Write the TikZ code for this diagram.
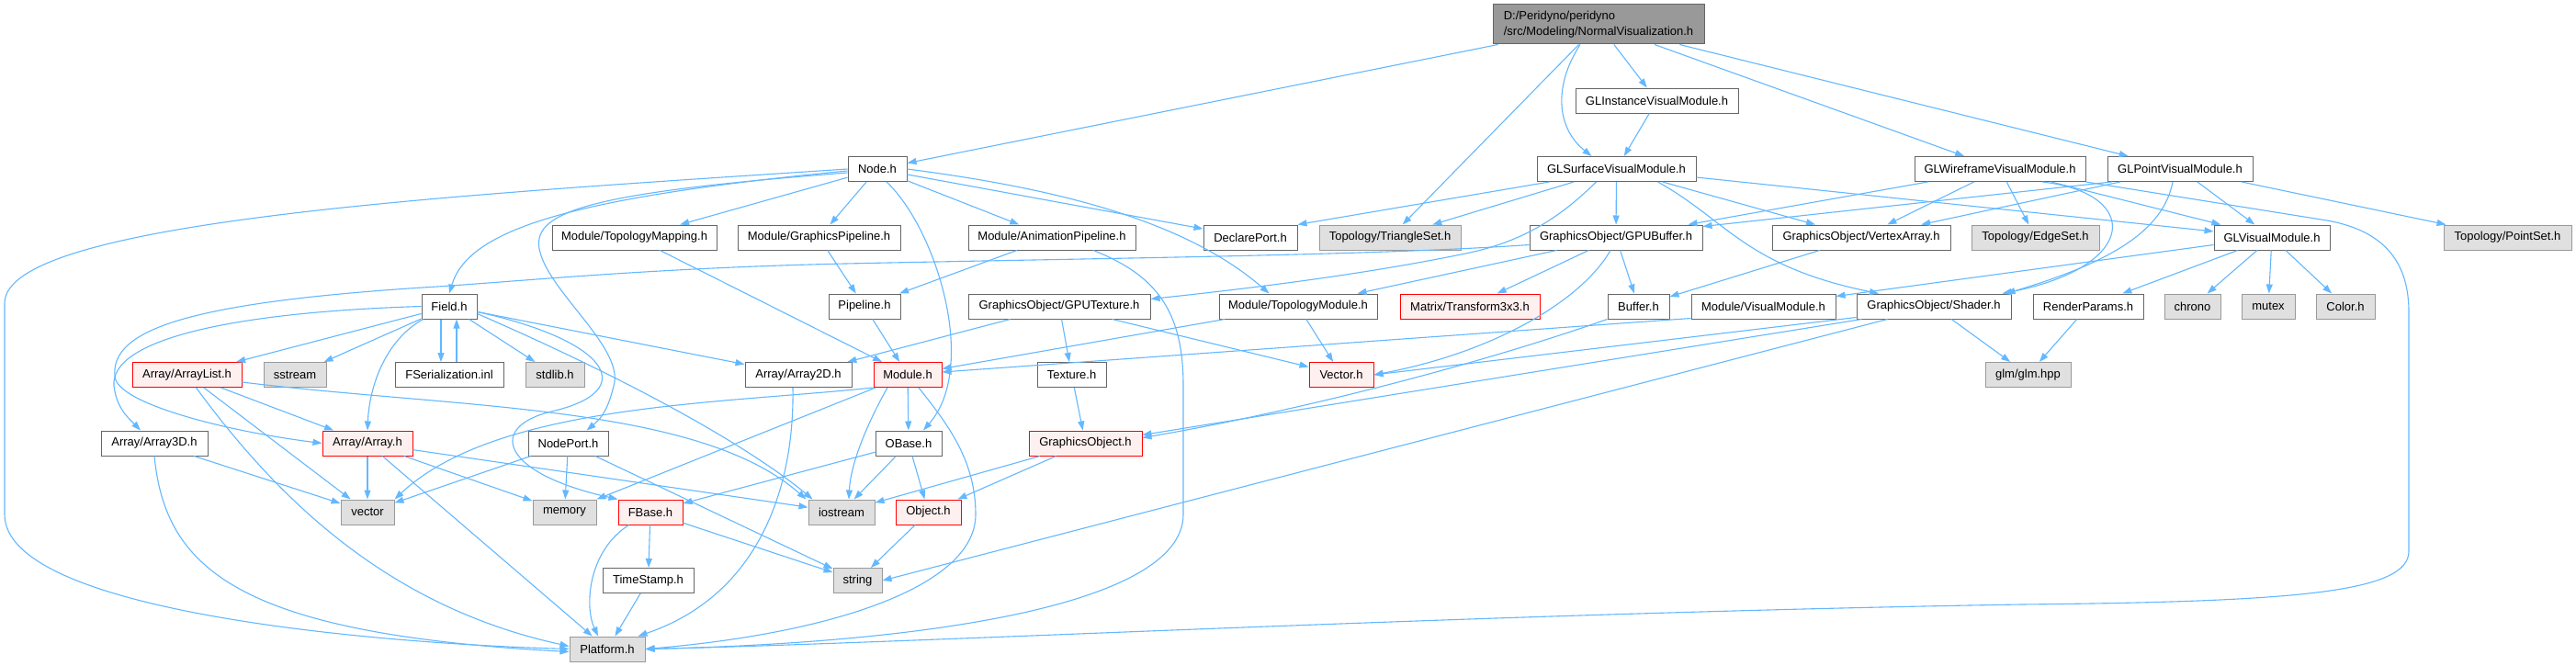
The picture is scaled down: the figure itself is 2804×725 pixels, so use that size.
\documentclass[tikz,border=0pt]{standalone}
\usepackage{fontspec}
\setmainfont{Liberation Sans}
\usetikzlibrary{arrows.meta,calc}
\definecolor{edgec}{HTML}{63B8FF}
\definecolor{bwhite}{HTML}{666666}
\definecolor{bgray}{HTML}{999999}
\definecolor{fgray}{HTML}{E0E0E0}
\definecolor{bred}{HTML}{FF0000}
\definecolor{fred}{HTML}{FFF0F0}
\definecolor{froot}{HTML}{999999}
\begin{document}
\begin{tikzpicture}[x=1pt,y=-1pt,
  every node/.style={font=\fontsize{13}{17}\selectfont, inner sep=0pt, minimum height=27pt, line width=1pt},
  wnode/.style={draw=bwhite, fill=white},
  gnode/.style={draw=bgray, fill=fgray},
  rnode/.style={draw=bred, fill=fred},
  rootnode/.style={draw=bwhite, fill=froot},
  dep/.style={draw=edgec, line width=1.1pt, -{Triangle[length=10pt,width=7pt]}}
]
\useasboundingbox (0,0) rectangle (2804,725);
\fill[white] (0,0) rectangle (2804,725);

% ---------- nodes ----------
\node[rootnode,minimum width=230pt,minimum height=43pt,align=left] (NV) at (1740,26.5) {D:/Peridyno/peridyno\\/src/Modeling/NormalVisualization.h};
\node[wnode,minimum width=177pt] (GLInst) at (1803.5,109.5) {GLInstanceVisualModule.h};
\node[wnode,minimum width=64pt] (Node) at (955,184) {Node.h};
\node[wnode,minimum width=173pt] (GLSurf) at (1759.5,184) {GLSurfaceVisualModule.h};
\node[wnode,minimum width=186pt] (GLWire) at (2177,184) {GLWireframeVisualModule.h};
\node[wnode,minimum width=158pt] (GLPoint) at (2373,184) {GLPointVisualModule.h};

\node[wnode,minimum width=179pt] (TMap) at (690.5,258.5) {Module/TopologyMapping.h};
\node[wnode,minimum width=177pt] (GPipe) at (891.5,258.5) {Module/GraphicsPipeline.h};
\node[wnode,minimum width=182pt] (APipe) at (1145,258.5) {Module/AnimationPipeline.h};
\node[wnode,minimum width=102pt] (Declare) at (1361,258.5) {DeclarePort.h};
\node[gnode,minimum width=154pt] (Tri) at (1513,258.5) {Topology/TriangleSet.h};
\node[wnode,minimum width=188pt] (GPUBuf) at (1759,258.5) {GraphicsObject/GPUBuffer.h};
\node[wnode,minimum width=194pt] (VArr) at (2026,258.5) {GraphicsObject/VertexArray.h};
\node[gnode,minimum width=139pt] (EdgeSet) at (2215.5,258.5) {Topology/EdgeSet.h};
\node[wnode,minimum width=126pt] (GLVis) at (2473,258.5) {GLVisualModule.h};
\node[gnode,minimum width=139pt] (PointSet) at (2729.5,258.5) {Topology/PointSet.h};

\node[wnode,minimum width=60pt] (Field) at (489,333.5) {Field.h};
\node[wnode,minimum width=78pt] (Pipeline) at (941,333.5) {Pipeline.h};
\node[wnode,minimum width=198pt] (GPUTex) at (1153,333.5) {GraphicsObject/GPUTexture.h};
\node[wnode,minimum width=172pt] (TModule) at (1413,333.5) {Module/TopologyModule.h};
\node[rnode,minimum width=152pt] (Transform) at (1600,333.5) {Matrix/Transform3x3.h};
\node[wnode,minimum width=67pt] (Buffer) at (1783.5,333.5) {Buffer.h};
\node[wnode,minimum width=157pt] (VisMod) at (1919.5,333.5) {Module/VisualModule.h};
\node[wnode,minimum width=168pt] (Shader) at (2105,333.5) {GraphicsObject/Shader.h};
\node[wnode,minimum width=120pt] (Render) at (2273,333.5) {RenderParams.h};
\node[gnode,minimum width=61pt] (chrono) at (2386.5,333.5) {chrono};
\node[gnode,minimum width=58pt] (mutex) at (2469,333.5) {mutex};
\node[gnode,minimum width=64pt] (Color) at (2553,333.5) {Color.h};

\node[rnode,minimum width=119pt] (ArrayList) at (203.5,408) {Array/ArrayList.h};
\node[gnode,minimum width=68pt] (sstream) at (321,408) {sstream};
\node[wnode,minimum width=118pt] (FSer) at (489,408) {FSerialization.inl};
\node[gnode,minimum width=64pt] (stdlib) at (604,408) {stdlib.h};
\node[wnode,minimum width=116pt] (Array2D) at (869,408) {Array/Array2D.h};
\node[rnode,minimum width=74pt] (Module) at (988,408) {Module.h};
\node[wnode,minimum width=75pt] (Texture) at (1166.5,408) {Texture.h};
\node[rnode,minimum width=70pt] (Vector) at (1460,408) {Vector.h};
\node[gnode,minimum width=93pt] (glm) at (2207.5,408) {glm/glm.hpp};

\node[wnode,minimum width=116pt] (Array3D) at (168,482.5) {Array/Array3D.h};
\node[rnode,minimum width=98pt] (Array) at (400,482.5) {Array/Array.h};
\node[wnode,minimum width=87pt] (NodePort) at (618.5,482.5) {NodePort.h};
\node[wnode,minimum width=72pt] (OBase) at (989,482.5) {OBase.h};
\node[rnode,minimum width=123pt] (GObj) at (1181.5,482.5) {GraphicsObject.h};

\node[gnode,minimum width=58pt] (vector) at (400,557.5) {vector};
\node[gnode,minimum width=69pt] (memory) at (614.5,557.5) {memory};
\node[rnode,minimum width=70pt] (FBase) at (708,557.5) {FBase.h};
\node[gnode,minimum width=72pt] (iostream) at (916,557.5) {iostream};
\node[rnode,minimum width=71pt] (Object) at (1010.5,557.5) {Object.h};

\node[wnode,minimum width=99pt] (TimeStamp) at (705.5,632) {TimeStamp.h};
\node[gnode,minimum width=53pt] (string) at (933.5,632) {string};
\node[gnode,minimum width=82pt] (Platform) at (661,706.5) {Platform.h};

% ---------- edges ----------
% root
\draw[dep] (NV) -- (Node);
\draw[dep] (NV) -- (Tri);
\draw[dep] ($(NV.south)+(-20,0)$) .. controls (1690,95) and (1695,140) .. ($(GLSurf.north)+(-27,0)$);
\draw[dep] (NV) -- (GLInst);
\draw[dep] (NV) -- (GLWire);
\draw[dep] (NV) -- (GLPoint);
\draw[dep] (GLInst) -- (GLSurf);

% GLSurface
\draw[dep] ($(GLSurf.south west)+(14,0)$) -- (Declare.north east);
\draw[dep] (GLSurf) -- (Tri);
\draw[dep] (GLSurf) -- (GPUBuf);
\draw[dep] ($(GLSurf.south)+(-22,0)$) .. controls (1700,235) and (1660,262) .. (1600,275) .. controls (1480,300) and (1350,315) .. ($(GPUTex.east)+(0,-8)$);
\draw[dep] (GLSurf) -- (VArr);
\draw[dep] ($(GLSurf.south)+(45,0)$) .. controls (1880,240) and (1900,290) .. ($(Shader.north)+(-60,0)$);
\draw[dep] ($(GLSurf.east)+(0,9)$) -- (GLVis);

% GLWireframe
\draw[dep] (GLWire) -- (GPUBuf);
\draw[dep] (GLWire) -- (VArr);
\draw[dep] (GLWire) -- (EdgeSet);
\draw[dep] ($(GLWire.south)+(46,0)$) .. controls (2330,210) and (2330,290) .. ($(Shader.north east)+(-10,0)$);
\draw[dep] (GLWire) -- (GLVis);
\draw[dep] (GLWire.south east) -- (2533,240) .. controls (2600,252) and (2622,290) .. (2622,340) -- (2622,600)
  .. controls (2622,645) and (2500,655) .. (2200,658) .. controls (1600,668) and (1000,700) .. (Platform.east);

% GLPoint
\draw[dep] ($(GLPoint.south west)+(5,0)$) -- ($(GPUBuf.north east)+(0,2)$);
\draw[dep] (GLPoint) -- (VArr);
\draw[dep] ($(GLPoint.south)+(-8,0)$) .. controls (2355,250) and (2300,285) .. ($(Shader.north east)+(-6,0)$);
\draw[dep] (GLPoint) -- (GLVis);
\draw[dep] (GLPoint) -- (PointSet);

% Node
\draw[dep] (Node) -- (TMap);
\draw[dep] (Node) -- (GPipe);
\draw[dep] (Node) -- (APipe);
\draw[dep] (Node) -- (Declare);
\draw[dep] (Node.east) .. controls (1150,205) and (1290,240) .. ($(TModule.north west)+(55,0)$);
\draw[dep] ($(Node.west)+(0,2)$) .. controls (620,215) and (510,250) .. (Field.north);
\draw[dep] ($(Node.west)+(0,4)$) .. controls (640,210) and (575,230) .. (588,275) .. controls (600,320) and (680,380) .. (668,420) .. controls (662,445) and (655,455) .. ($(NodePort.north)+(20,0)$);
\draw[dep] ($(Node.south)+(10,0)$) .. controls (1020,250) and (1065,400) .. ($(OBase.north)+(16,0)$);
\draw[dep] (Node.west) .. controls (500,212) and (5,240) .. (5,330) -- (5,560) .. controls (5,665) and (400,700) .. (Platform.west);

% pipelines / modules
\draw[dep] (TMap) -- (Module);
\draw[dep] (GPipe) -- (Pipeline);
\draw[dep] (APipe) -- (Pipeline);
\draw[dep] ($(APipe.south)+(45,0)$) .. controls (1260,300) and (1288,340) .. (1288,420) -- (1288,560) .. controls (1288,660) and (1000,700) .. (Platform.east);
\draw[dep] (Pipeline) -- (Module);

% GPUBuffer
\draw[dep] (GPUBuf) -- (Transform);
\draw[dep] (GPUBuf) -- (Buffer);
\draw[dep] ($(GPUBuf.south)+(-6,0)$) .. controls (1720,330) and (1620,385) .. (Vector.east);
\draw[dep] (GPUBuf) -- (TModule);
\draw[dep] ($(GPUBuf.west)+(0,8)$) .. controls (1500,278) and (1200,281) .. (920,287) .. controls (700,292) and (560,307) .. (460,313)
  .. controls (200,330) and (120,360) .. (125,410) .. controls (128,440) and (250,470) .. (Array.west);

% GPUTexture, modules
\draw[dep] (GPUTex) -- (Texture);
\draw[dep] (GPUTex) -- (Array2D);
\draw[dep] (GPUTex) -- (Vector);
\draw[dep] (TModule) -- (Module);
\draw[dep] (TModule) -- (Vector);
\draw[dep] (Buffer.south west) .. controls (1600,400) and (1400,450) .. ($(GObj.east)+(0,-6)$);
\draw[dep] (VArr) -- (Buffer);
\draw[dep] ($(VisMod.south west)+(0,-1)$) -- ($(Module.east)+(0,-3)$);

% Shader
\draw[dep] ($(Shader.south west)+(6,0)$) -- ($(GObj.east)+(0,-9)$);
\draw[dep] (Shader) -- (glm);
\draw[dep] ($(Shader.south west)+(34,0)$) -- (string.east);
\draw[dep] ($(Shader.south west)+(0,-2)$) -- (Vector.east);

% GLVisualModule
\draw[dep] ($(GLVis.west)+(0,8)$) -- ($(VisMod.north east)+(0,3)$);
\draw[dep] (GLVis) -- (Render);
\draw[dep] (GLVis) -- (chrono);
\draw[dep] (GLVis) -- (mutex);
\draw[dep] (GLVis) -- (Color);
\draw[dep] (Render) -- (glm);

% graphics objects
\draw[dep] (Texture) -- (GObj);
\draw[dep] (GObj) -- (iostream);
\draw[dep] (GObj) -- (Object);

% Field
\draw[dep] (Field) -- (ArrayList);
\draw[dep] (Field) -- (sstream);
\draw[dep] ($(Field.south)+(-9,0)$) -- ($(FSer.north)+(-9,0)$);
\draw[dep] ($(FSer.north)+(8,0)$) -- ($(Field.south)+(8,0)$);
\draw[dep] (Field) -- (stdlib);
\draw[dep] (Field) -- (Array2D);
\draw[dep] ($(Field.south west)+(2,0)$) .. controls (420,370) and (402,420) .. (Array.north);
\draw[dep] (Field.west) .. controls (250,340) and (120,370) .. (124,420) .. controls (127,445) and (140,455) .. ($(Array3D.north)+(-15,0)$);
\draw[dep] ($(Field.east)+(0,8)$) .. controls (700,420) and (820,490) .. ($(iostream.north west)+(5,0)$);
\draw[dep] ($(Field.east)+(0,6)$) .. controls (660,370) and (700,425) .. (600,448) .. controls (530,465) and (545,515) .. (FBase.north west);

% Arrays
\draw[dep] (ArrayList) -- (Array);
\draw[dep] (ArrayList) -- (vector);
\draw[dep] ($(ArrayList.south)+(10,0)$) .. controls (300,540) and (420,660) .. ($(Platform.west)+(0,-3)$);
\draw[dep] ($(ArrayList.east)+(0,8)$) .. controls (500,445) and (760,440) .. ($(iostream.north west)+(-2,0)$);
\draw[dep] (Array3D) -- (vector);
\draw[dep] (Array3D.south) .. controls (180,620) and (260,690) .. ($(Platform.west)+(0,3)$);
\draw[dep] (Array) -- (vector);
\draw[dep] (Array) -- (memory);
\draw[dep] (Array) -- (iostream);
\draw[dep] (Array) -- (Platform);
\draw[dep] ($(Array2D.south)+(-6,0)$) .. controls (865,540) and (820,650) .. ($(Platform.north east)+(-8,0)$);

% NodePort
\draw[dep] (NodePort) -- (memory);
\draw[dep] (NodePort) -- (string);
\draw[dep] (NodePort) -- (vector);

% Module
\draw[dep] (Module) -- (OBase);
\draw[dep] ($(Module.south)+(-22,0)$) .. controls (950,450) and (926,500) .. ($(iostream.north)+(8,0)$);
\draw[dep] (Module) -- (memory);
\draw[dep] (Module.south west) .. controls (780,440) and (540,440) .. (vector.north east);
\draw[dep] ($(Module.south)+(12,0)$) .. controls (1030,460) and (1062,500) .. (1062,560) .. controls (1062,640) and (900,690) .. (Platform.east);

% OBase and below
\draw[dep] (OBase) -- (iostream);
\draw[dep] (OBase) -- (Object);
\draw[dep] (OBase) -- (FBase);
\draw[dep] (Object) -- (string);
\draw[dep] (FBase) -- (TimeStamp);
\draw[dep] (FBase) -- (string);
\draw[dep] ($(FBase.south west)+(12,0)$) .. controls (640,600) and (636,660) .. ($(Platform.north)+(-10,0)$);
\draw[dep] (TimeStamp) -- (Platform);
\end{tikzpicture}
\end{document}
